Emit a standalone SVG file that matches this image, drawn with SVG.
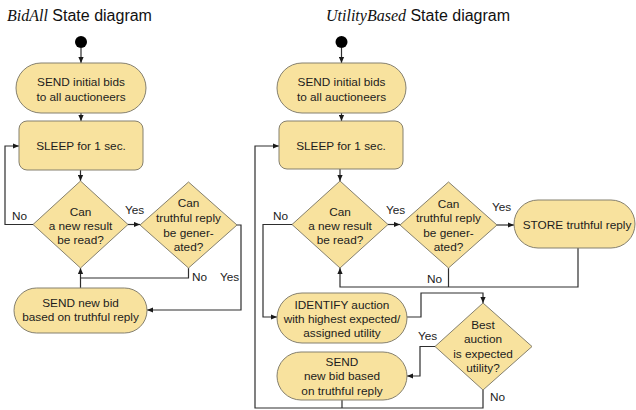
<svg xmlns="http://www.w3.org/2000/svg" width="636" height="410" viewBox="0 0 636 410">
  <style>
    .node { fill: #F8E29E; stroke: #85806e; stroke-width: 1; }
    .lbl { font-family: "Liberation Sans", Arial, sans-serif; font-size: 11.8px; fill: #1c1c1c; text-anchor: middle; }
    .edge-lbl { font-family: "Liberation Sans", Arial, sans-serif; font-size: 11.8px; fill: #1c1c1c; }
    .title { font-family: "Liberation Sans", Arial, sans-serif; font-size: 16px; fill: #111; }
    .title .it { font-family: "Liberation Serif", "Times New Roman", serif; font-style: italic; }
    .wire { fill: none; stroke: #2e2e2e; stroke-width: 1.2; }
    .wire.arr { marker-end: url(#head); }
    .start { fill: #000; }
  </style>
  <defs>
    <marker id="head" markerUnits="userSpaceOnUse" markerWidth="6" markerHeight="6" refX="6" refY="3" orient="auto">
      <path d="M0,0.4 L6,3 L0,5.6 z" fill="#1a1a1a"/>
    </marker>
  </defs>

  <rect width="636" height="410" fill="#ffffff"/>

  <!-- Titles -->
  <text class="title" x="7" y="21"><tspan class="it">BidAll</tspan> State diagram</text>
  <text class="title" x="326" y="21"><tspan class="it">UtilityBased</tspan> State diagram</text>

  <!-- ===== BidAll connectors ===== -->
  <g id="bidall-edges">
    <path class="wire arr" d="M81,48 V63"/>
    <path class="wire arr" d="M81,113 V121"/>
    <path class="wire arr" d="M80.5,170 V181"/>
    <path class="wire arr" d="M128,224.5 H140"/>
    <path class="wire arr" d="M33,224.5 H5 V146 H19"/>
    <path class="wire" d="M188.5,268 V278 H80.5"/>
    <path class="wire arr" d="M80.5,288 V268"/>
    <path class="wire arr" d="M237,225 H241 V310 H147"/>
    <text class="edge-lbl" x="12" y="220">No</text>
    <text class="edge-lbl" x="125" y="214">Yes</text>
    <text class="edge-lbl" x="192" y="281">No</text>
    <text class="edge-lbl" x="220" y="281">Yes</text>
  </g>

  <!-- ===== BidAll nodes ===== -->
  <g id="ba-start"><circle class="start" cx="81" cy="42" r="6"/></g>
  <g id="ba-send-initial">
    <rect class="node" x="16" y="63" width="130" height="50" rx="25"/>
    <text class="lbl" x="81" y="86">SEND initial bids</text>
    <text class="lbl" x="81" y="101">to all auctioneers</text>
  </g>
  <g id="ba-sleep">
    <rect class="node" x="19" y="121" width="124" height="49" rx="8"/>
    <text class="lbl" x="81" y="150">SLEEP for 1 sec.</text>
  </g>
  <g id="ba-new-result">
    <polygon class="node" points="80.5,181 128,224.5 80.5,268 33,224.5"/>
    <text class="lbl" x="80.5" y="216">Can</text>
    <text class="lbl" x="80.5" y="230">a new result</text>
    <text class="lbl" x="80.5" y="244">be read?</text>
  </g>
  <g id="ba-truthful">
    <polygon class="node" points="188.5,182 237,225 188.5,268 140,225"/>
    <text class="lbl" x="188.5" y="207">Can</text>
    <text class="lbl" x="188.5" y="222">truthful reply</text>
    <text class="lbl" x="188.5" y="236.5">be gener-</text>
    <text class="lbl" x="188.5" y="251">ated?</text>
  </g>
  <g id="ba-send-new">
    <rect class="node" x="14" y="288" width="133" height="45" rx="22.5"/>
    <text class="lbl" x="80.5" y="307">SEND new bid</text>
    <text class="lbl" x="80.5" y="321">based on truthful reply</text>
  </g>

  <!-- ===== UtilityBased connectors ===== -->
  <g id="utility-edges">
    <path class="wire arr" d="M341.5,48 V63"/>
    <path class="wire arr" d="M341.5,113 V121"/>
    <path class="wire arr" d="M340,169 V181"/>
    <path class="wire arr" d="M388,224.5 H400"/>
    <path class="wire arr" d="M497,225 H514"/>
    <path class="wire arr" d="M578,248 V287 H340 V268"/>
    <path class="wire" d="M448.5,268 V287"/>
    <path class="wire arr" d="M292,224.5 H263 V317 H277"/>
    <path class="wire arr" d="M407,317 H421 V293 H483 V303"/>
    <path class="wire arr" d="M435,346.5 H420 V376 H407"/>
    <path class="wire arr" d="M483,390 V408 H255 V146 H279"/>
    <path class="wire" d="M342,400 V408"/>
    <text class="edge-lbl" x="273" y="220">No</text>
    <text class="edge-lbl" x="386" y="214">Yes</text>
    <text class="edge-lbl" x="492" y="211">Yes</text>
    <text class="edge-lbl" x="427" y="283">No</text>
    <text class="edge-lbl" x="418" y="340">Yes</text>
    <text class="edge-lbl" x="490" y="401">No</text>
  </g>

  <!-- ===== UtilityBased nodes ===== -->
  <g id="ub-start"><circle class="start" cx="341.5" cy="42" r="6"/></g>
  <g id="ub-send-initial">
    <rect class="node" x="277" y="63" width="129" height="50" rx="25"/>
    <text class="lbl" x="341.5" y="86">SEND initial bids</text>
    <text class="lbl" x="341.5" y="101">to all auctioneers</text>
  </g>
  <g id="ub-sleep">
    <rect class="node" x="279" y="121" width="124" height="48" rx="8"/>
    <text class="lbl" x="341" y="150">SLEEP for 1 sec.</text>
  </g>
  <g id="ub-new-result">
    <polygon class="node" points="340,181 388,224.5 340,268 292,224.5"/>
    <text class="lbl" x="340" y="216">Can</text>
    <text class="lbl" x="340" y="230">a new result</text>
    <text class="lbl" x="340" y="244">be read?</text>
  </g>
  <g id="ub-truthful">
    <polygon class="node" points="448.5,182 497,225 448.5,268 400,225"/>
    <text class="lbl" x="448.5" y="208">Can</text>
    <text class="lbl" x="448.5" y="222">truthful reply</text>
    <text class="lbl" x="448.5" y="236.5">be gener-</text>
    <text class="lbl" x="448.5" y="250.5">ated?</text>
  </g>
  <g id="ub-store">
    <rect class="node" x="514" y="200" width="121" height="48" rx="24"/>
    <text class="lbl" x="577" y="229">STORE truthful reply</text>
  </g>
  <g id="ub-identify">
    <rect class="node" x="277" y="293" width="130" height="50" rx="25"/>
    <text class="lbl" x="342" y="309">IDENTIFY auction</text>
    <text class="lbl" x="342" y="323">with highest expected/</text>
    <text class="lbl" x="342" y="337">assigned utility</text>
  </g>
  <g id="ub-best">
    <polygon class="node" points="483,303 532,346.5 483,390 435,346.5"/>
    <text class="lbl" x="483" y="329">Best</text>
    <text class="lbl" x="483" y="343">auction</text>
    <text class="lbl" x="483" y="357.5">is expected</text>
    <text class="lbl" x="483" y="372">utility?</text>
  </g>
  <g id="ub-send-new">
    <rect class="node" x="277" y="352" width="130" height="48" rx="24"/>
    <text class="lbl" x="342" y="366">SEND</text>
    <text class="lbl" x="342" y="380">new bid based</text>
    <text class="lbl" x="342" y="395">on truthful reply</text>
  </g>
</svg>
